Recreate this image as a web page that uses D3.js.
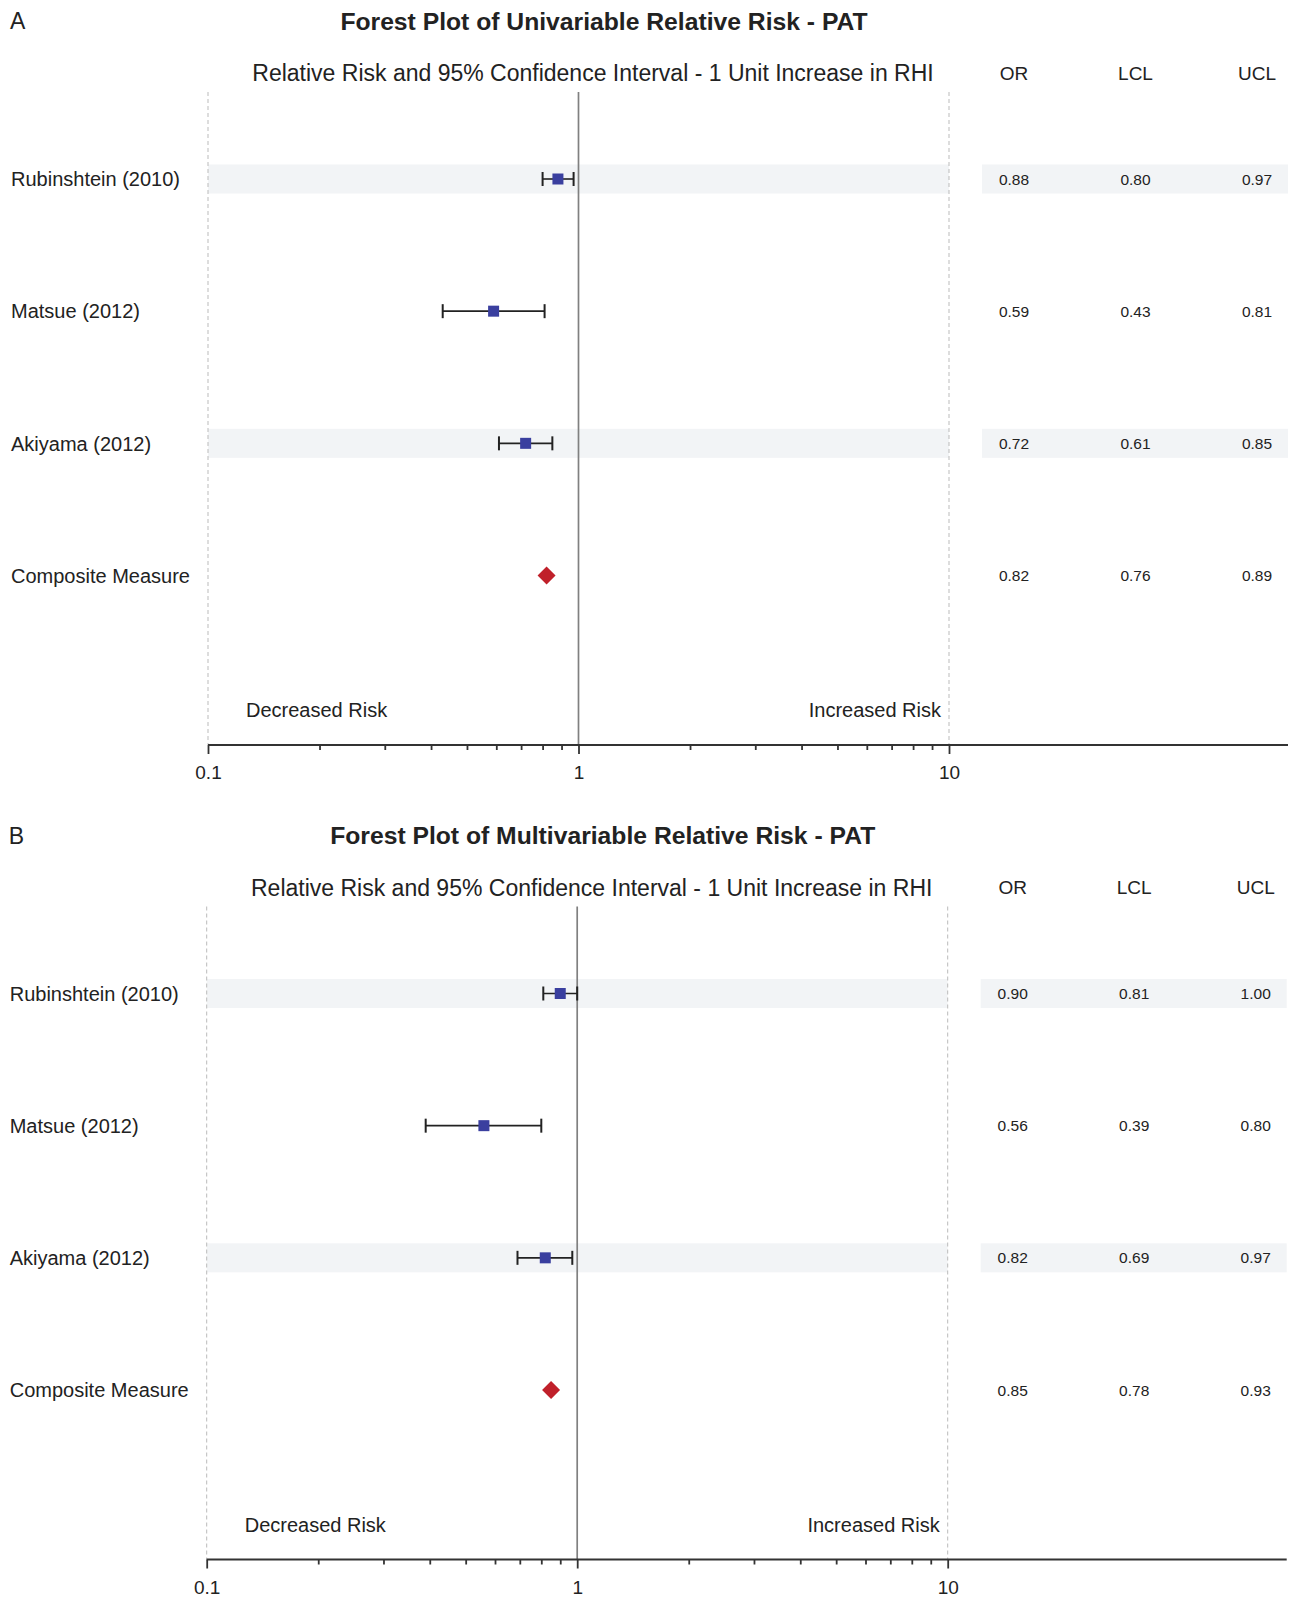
<!DOCTYPE html>
<html>
<head>
<meta charset="utf-8">
<script src="https://cdn.jsdelivr.net/npm/d3@7"></script>
<style>
  html, body { margin: 0; padding: 0; background: #fff; }
  svg { display: block; font-family: "Liberation Sans", Arial, sans-serif; }
</style>
</head>
<body>
<svg id="chart" width="1293" height="1607"></svg>
<script>
// Study rows shared by both panels
const studies = ["Rubinshtein (2010)", "Matsue (2012)", "Akiyama (2012)", "Composite Measure"];
const isComposite = [false, false, false, true];

// Panel A: univariable relative risk
const uniOR  = [0.88, 0.59, 0.72, 0.82];
const uniLCL = [0.80, 0.43, 0.61, 0.76];
const uniUCL = [0.97, 0.81, 0.85, 0.89];

// Panel B: multivariable relative risk
const multiOR  = [0.90, 0.56, 0.82, 0.85];
const multiLCL = [0.81, 0.39, 0.69, 0.78];
const multiUCL = [1.00, 0.80, 0.97, 0.93];

const columnHeaders = ["OR", "LCL", "UCL"];
const axisDomain = [0.1, 10];
const majorTicks = [0.1, 1, 10];
const subtitle = "Relative Risk and 95% Confidence Interval - 1 Unit Increase in RHI";

const panels = [
  { letter: "A", title: "Forest Plot of Univariable Relative Risk - PAT",
    or: uniOR, lcl: uniLCL, ucl: uniUCL, dx: 0, dy: 0 },
  { letter: "B", title: "Forest Plot of Multivariable Relative Risk - PAT",
    or: multiOR, lcl: multiLCL, ucl: multiUCL, dx: -1.3, dy: 814.5 }
];

const svg = d3.select("#chart");

// Layout of one panel (panel B is the same layout shifted down)
const plotLeft = 208, plotRight = 949;
const tableLeft = 982, tableRight = 1288;
const lineTop = 92, axisY = 745;

const x = d3.scaleLog().domain(axisDomain).range([plotLeft, plotRight]);
const y = d3.scalePoint().domain(studies).range([179, 575.5]);
const col = d3.scalePoint().domain(columnHeaders).range([1014, 1257]);
const fmt = d3.format(".2f");

panels.forEach(p => {
  const g = svg.append("g").attr("transform", `translate(${p.dx},${p.dy})`);

  const rows = studies.map((s, i) => ({
    name: s, or: p.or[i], lcl: p.lcl[i], ucl: p.ucl[i], composite: isComposite[i], i
  }));

  // alternating row shading (1st and 3rd rows)
  const shaded = rows.filter(r => r.i % 2 === 0 && !r.composite);
  const bandH = 29;
  shaded.forEach(r => {
    g.append("rect").attr("x", plotLeft).attr("y", y(r.name) - bandH / 2)
      .attr("width", plotRight - plotLeft).attr("height", bandH).attr("fill", "#f2f4f6");
    g.append("rect").attr("x", tableLeft).attr("y", y(r.name) - bandH / 2)
      .attr("width", tableRight - tableLeft).attr("height", bandH).attr("fill", "#f2f4f6");
  });

  // panel letter and titles
  g.append("text").attr("x", 10).attr("y", 29).attr("font-size", 23)
    .attr("fill", "#222").text(p.letter);
  g.append("text").attr("x", 604).attr("y", 29.5).attr("text-anchor", "middle")
    .attr("font-size", 24.7).attr("font-weight", "bold").attr("fill", "#222").text(p.title);
  g.append("text").attr("x", 593).attr("y", 81).attr("text-anchor", "middle")
    .attr("font-size", 23).attr("fill", "#222").text(subtitle);

  g.selectAll(".hdr").data(columnHeaders).enter().append("text")
    .attr("x", d => col(d)).attr("y", 79.5).attr("text-anchor", "middle")
    .attr("font-size", 19).attr("fill", "#222").text(d => d);

  // reference lines at the ends of the scale and at 1
  [axisDomain[0], axisDomain[1]].forEach(v => {
    g.append("line").attr("x1", x(v)).attr("x2", x(v)).attr("y1", lineTop).attr("y2", axisY)
      .attr("stroke", "#bbb").attr("stroke-width", 1).attr("stroke-dasharray", "4,3");
  });
  g.append("line").attr("x1", x(1)).attr("x2", x(1)).attr("y1", lineTop).attr("y2", axisY)
    .attr("stroke", "#808080").attr("stroke-width", 1.7);

  // study labels
  g.selectAll(".lbl").data(rows).enter().append("text")
    .attr("x", 11).attr("y", d => y(d.name) + 7.2)
    .attr("font-size", 20).attr("fill", "#222").text(d => d.name);

  // confidence intervals with end caps
  const ci = rows.filter(r => !r.composite);
  const capH = 7;
  g.selectAll(".ci").data(ci).enter().append("line")
    .attr("x1", d => x(d.lcl)).attr("x2", d => x(d.ucl))
    .attr("y1", d => y(d.name)).attr("y2", d => y(d.name))
    .attr("stroke", "#222").attr("stroke-width", 1.6);
  ["lcl", "ucl"].forEach(k => {
    g.selectAll(".cap-" + k).data(ci).enter().append("line")
      .attr("x1", d => x(d[k])).attr("x2", d => x(d[k]))
      .attr("y1", d => y(d.name) - capH).attr("y2", d => y(d.name) + capH)
      .attr("stroke", "#222").attr("stroke-width", 2);
  });

  // point estimates
  const sq = 11;
  g.selectAll(".pt").data(ci).enter().append("rect")
    .attr("x", d => x(d.or) - sq / 2).attr("y", d => y(d.name) - sq / 2)
    .attr("width", sq).attr("height", sq).attr("fill", "#3a3f9f");

  const dia = 9;
  g.selectAll(".comp").data(rows.filter(r => r.composite)).enter().append("path")
    .attr("d", d => {
      const cx = x(d.or), cy = y(d.name);
      return `M${cx},${cy - dia}L${cx + dia},${cy}L${cx},${cy + dia}L${cx - dia},${cy}Z`;
    })
    .attr("fill", "#c0202a");

  // table values
  const valueKeys = ["or", "lcl", "ucl"];
  valueKeys.forEach((k, j) => {
    g.selectAll(".val-" + k).data(rows).enter().append("text")
      .attr("x", col(columnHeaders[j])).attr("y", d => y(d.name) + 5.5)
      .attr("text-anchor", "middle").attr("font-size", 15.5).attr("fill", "#222")
      .text(d => fmt(d[k]));
  });

  // direction labels
  g.append("text").attr("x", 246).attr("y", 717).attr("font-size", 20)
    .attr("fill", "#222").text("Decreased Risk");
  g.append("text").attr("x", 941).attr("y", 717).attr("text-anchor", "end")
    .attr("font-size", 20).attr("fill", "#222").text("Increased Risk");

  // log axis
  const axis = d3.axisBottom(x)
    .tickValues(x.ticks())
    .tickSize(5)
    .tickPadding(16)
    .tickFormat(d => majorTicks.includes(+d.toPrecision(6)) ? d3.format("~g")(d) : "");
  const ag = g.append("g").attr("transform", `translate(0,${axisY})`).call(axis);
  ag.select(".domain").remove();
  ag.selectAll(".tick line").attr("stroke", "#333").attr("stroke-width", 1.8)
    .attr("y2", d => majorTicks.includes(+d.toPrecision(6)) ? 9 : 5);
  ag.selectAll(".tick text").attr("font-size", 19).attr("fill", "#222")
    .attr("font-family", "Liberation Sans, Arial, sans-serif");
  g.append("line").attr("x1", plotLeft).attr("x2", tableRight)
    .attr("y1", axisY).attr("y2", axisY).attr("stroke", "#333").attr("stroke-width", 2);
});
</script>
</body>
</html>
